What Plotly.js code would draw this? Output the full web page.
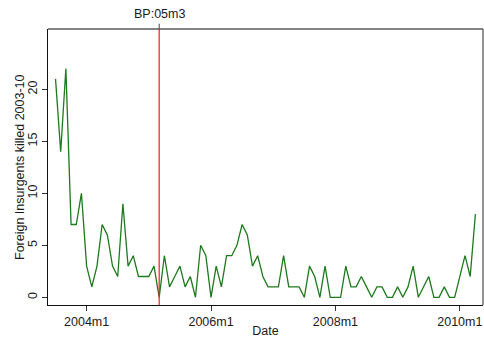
<!DOCTYPE html>
<html>
<head>
<meta charset="utf-8">
<script src="https://cdn.plot.ly/plotly-3.0.1.min.js"></script>
<style>
  html, body { margin: 0; padding: 0; background: #ffffff; }
  #chart { width: 484px; height: 338px; }
</style>
</head>
<body>
<div id="chart"></div>
<script>
// Monthly counts of foreign insurgents killed, starting 2003m7
const startYear = 2003;
const startMonth = 7;
const killed = [
  21, 14, 22, 7, 7, 10,                     // 2003m7 - 2003m12
  3, 1, 3, 7, 6, 3, 2, 9, 3, 4, 2, 2,       // 2004
  2, 3, 0, 4, 1, 2, 3, 1, 2, 0, 5, 4,       // 2005
  0, 3, 1, 4, 4, 5, 7, 6, 3, 4, 2, 1,       // 2006
  1, 1, 4, 1, 1, 1, 0, 3, 2, 0, 3, 0,       // 2007
  0, 0, 3, 1, 1, 2, 1, 0, 1, 1, 0, 0,       // 2008
  1, 0, 1, 3, 0, 1, 2, 0, 0, 1, 0, 0,       // 2009
  2, 4, 2, 8                                // 2010m1 - 2010m4
];
const tickLabels = ['2004m1', '2006m1', '2008m1', '2010m1'];
const yTicks = [0, 5, 10, 15, 20];
const breakLabel = 'BP:05m3';
const breakDate = '2005m3';
const yTitle = 'Foreign Insurgents killed 2003-10';

// Stata-style monthly index: months since 1960m1
function tm(label) {
  const [y, m] = label.split('m').map(Number);
  return (y - 1960) * 12 + (m - 1);
}
const t0 = tm(startYear + 'm' + startMonth);
const months = killed.map((_, i) => t0 + i);
const breakX = tm(breakDate);

const trace = {
  x: months,
  y: killed,
  type: 'scatter',
  mode: 'lines',
  line: { color: '#1d7a1d', width: 1.3 },
  hoverinfo: 'x+y'
};

const frameColor = '#5a5a5a';
const layout = {
  width: 484,
  height: 338,
  margin: { l: 48, r: 1, t: 29, b: 33 },
  paper_bgcolor: '#ffffff',
  plot_bgcolor: '#ffffff',
  showlegend: false,
  font: { family: 'Liberation Sans, Arial, sans-serif', size: 12.5, color: '#1a1a1a' },
  xaxis: {
    range: [520.55, 604.47],
    tickmode: 'array',
    tickvals: tickLabels.map(tm),
    ticktext: tickLabels,
    ticks: 'outside',
    ticklen: 5,
    tickcolor: '#333',
    tickwidth: 1,
    showline: true,
    linecolor: '#111',
    linewidth: 1.3,
    showgrid: false,
    zeroline: false,
    title: { text: 'Date', standoff: 2, font: { size: 12.5 } }
  },
  yaxis: {
    range: [-0.74, 25.8],
    tickmode: 'array',
    tickvals: yTicks,
    ticktext: yTicks.map(String),
    tickangle: -90,
    ticks: 'outside',
    ticklen: 5,
    tickcolor: '#333',
    tickwidth: 1,
    showline: true,
    linecolor: '#111',
    linewidth: 1.3,
    showgrid: false,
    zeroline: false
  },
  shapes: [
    // top and right edges of the plot frame
    { type: 'line', xref: 'paper', yref: 'paper', x0: 0, x1: 1, y0: 1, y1: 1,
      line: { color: frameColor, width: 1.3 } },
    { type: 'line', xref: 'paper', yref: 'paper', x0: 1, x1: 1, y0: 0, y1: 1,
      line: { color: frameColor, width: 1.3 } },
    // structural break marker
    { type: 'line', xref: 'x', yref: 'paper', x0: breakX, x1: breakX, y0: 0, y1: 1,
      line: { color: '#ff1a1a', width: 1.2 } },
    { type: 'line', xref: 'x', yref: 'paper', x0: breakX, x1: breakX, y0: 1, y1: 1.019,
      line: { color: '#444', width: 1 } }
  ],
  annotations: [
    { x: breakX, xref: 'x', y: 1, yref: 'paper', yanchor: 'bottom', yshift: 6,
      text: breakLabel, showarrow: false, font: { size: 12.5, color: '#1a1a1a' } },
    // y-axis title, rotated alongside the tick labels
    { x: 0, xref: 'paper', xanchor: 'center', xshift: -28,
      y: 0.5, yref: 'paper', yanchor: 'middle',
      textangle: -90, text: yTitle, showarrow: false,
      font: { size: 12.5, color: '#1a1a1a' } }
  ]
};

Plotly.newPlot('chart', [trace], layout, { displayModeBar: false, staticPlot: true });
</script>
</body>
</html>
